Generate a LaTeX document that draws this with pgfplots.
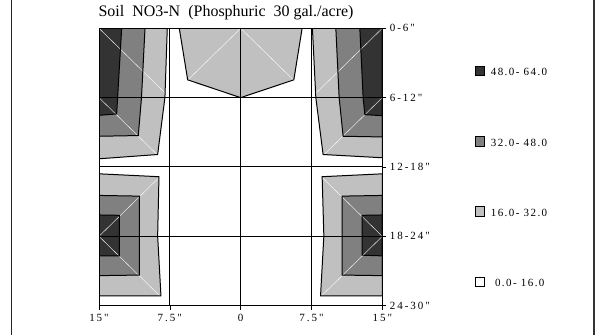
\documentclass[border=0pt]{standalone}
\usepackage{fontspec}
\setmainfont{Liberation Serif}
\newfontfamily\tickf[LetterSpace=18]{Liberation Serif}
\newfontfamily\legf[LetterSpace=13]{Liberation Serif}
\usepackage{pgfplots}
\usepackage{pgfplotstable}
\pgfplotsset{compat=1.18}
\definecolor{cdark}{HTML}{333333}
\definecolor{cmid}{HTML}{808080}
\definecolor{clight}{HTML}{C0C0C0}

% contour regions (x in inches, y = -depth in inches)
\pgfplotstableread{
x y
-15 0
-7.77 0
-8.02 -6
-8.79 -10.92
-15 -11.29
}\tll
\pgfplotstableread{
x y
-15 0
-10.13 0
-10.5 -6
-10.84 -9.28
-15 -9.34
}\tlm
\pgfplotstableread{
x y
-15 0
-12.6 0
-13.03 -6
-13.13 -7.41
-15 -7.53
}\tld
\pgfplotstableread{
x y
15 0
7.6 0
7.96 -6
8.73 -10.92
15 -11.2
}\trl
\pgfplotstableread{
x y
15 0
10.08 0
10.43 -6
10.85 -9.34
15 -9.4
}\trm
\pgfplotstableread{
x y
15 0
12.62 0
12.97 -6
13.15 -7.47
15 -7.56
}\trd
\pgfplotstableread{
x y
-6.5 0
-5.61 -4.46
0 -6
5.63 -4.46
6.51 0
}\tcl
\pgfplotstableread{
x y
-15 -12.59
-8.65 -12.84
-8.79 -17.97
-8.44 -23.14
-15 -23.14
}\bll
\pgfplotstableread{
x y
-15 -14.46
-10.73 -14.52
-10.73 -21.35
-15 -21.4
}\blm
\pgfplotstableread{
x y
-15 -16.15
-12.85 -16.18
-12.85 -19.69
-15 -19.69
}\bld
\pgfplotstableread{
x y
15 -12.59
8.63 -12.84
8.81 -17.97
8.46 -23.14
15 -23.14
}\brl
\pgfplotstableread{
x y
15 -14.46
10.75 -14.52
10.75 -21.35
15 -21.4
}\brm
\pgfplotstableread{
x y
15 -16.15
12.86 -16.18
12.86 -19.63
15 -19.69
}\brd

\begin{document}
\begin{tikzpicture}
\useasboundingbox (0,0) rectangle (605bp,335bp);
\begin{axis}[
  at={(240.65bp,168bp)}, anchor=center,
  width=283.3bp, height=277.4bp, scale only axis,
  xmin=-15, xmax=15, ymin=-24, ymax=0,
  xtick={-15,-7.5,0,7.5,15},
  xticklabels={15",7.5",0,7.5",15"},
  ytick={-24,-18,-12,-6,0},
  yticklabels={24-30",18-24",12-18",6-12",0-6"},
  xtick pos=bottom, ytick pos=right, yticklabel pos=right,
  tick align=outside, major tick length=4bp,
  every tick/.style={black, line width=0.6pt},
  grid=major, major grid style={black, line width=1pt},
  axis line style={black, line width=1pt},
  axis on top,
  ticklabel style={font=\tickf\fontsize{11bp}{13bp}\selectfont},
  xticklabel style={yshift=-1bp},
  legend style={draw=none, fill=none,
    at={(axis description cs:1.327,0.865)}, anchor=north west,
    inner sep=0pt, outer sep=0pt, row sep=58.7bp,
    nodes={inner sep=0pt},
    font=\legf\fontsize{11bp}{13bp}\selectfont},
  legend cell align=left,
  legend image code/.code={\path[draw=none,fill=none] (0bp,0bp) -- (15.5bp,0bp);
    \draw[#1] (0bp,-2.75bp) rectangle (9.5bp,6.75bp);},
]
% fills
\addplot[fill=clight, draw=none, forget plot] table {\tll} -- cycle;
\addplot[fill=cmid, draw=none, forget plot] table {\tlm} -- cycle;
\addplot[fill=cdark, draw=none, forget plot] table {\tld} -- cycle;
\addplot[fill=clight, draw=none, forget plot] table {\trl} -- cycle;
\addplot[fill=cmid, draw=none, forget plot] table {\trm} -- cycle;
\addplot[fill=cdark, draw=none, forget plot] table {\trd} -- cycle;
\addplot[fill=clight, draw=none, forget plot] table {\tcl} -- cycle;
\addplot[fill=clight, draw=none, forget plot] table {\bll} -- cycle;
\addplot[fill=cmid, draw=none, forget plot] table {\blm} -- cycle;
\addplot[fill=cdark, draw=none, forget plot] table {\bld} -- cycle;
\addplot[fill=clight, draw=none, forget plot] table {\brl} -- cycle;
\addplot[fill=cmid, draw=none, forget plot] table {\brm} -- cycle;
\addplot[fill=cdark, draw=none, forget plot] table {\brd} -- cycle;
% triangulation diagonals
\addplot[white, line width=0.4pt, forget plot] coordinates {(-15,0) (-7.5,-6) (0,0) (7.5,-6) (15,0)};
\addplot[white, line width=0.4pt, forget plot] coordinates {(-15,-6) (-7.5,-12)};
\addplot[white, line width=0.4pt, forget plot] coordinates {(15,-6) (7.5,-12)};
\addplot[white, line width=0.4pt, forget plot] coordinates {(-7.5,-12) (-15,-18) (-7.5,-24)};
\addplot[white, line width=0.4pt, forget plot] coordinates {(7.5,-12) (15,-18) (7.5,-24)};
% contour outlines
\addplot[draw=black, line width=1pt, forget plot] table {\tll} -- cycle;
\addplot[draw=black, line width=1pt, forget plot] table {\tlm} -- cycle;
\addplot[draw=black, line width=1pt, forget plot] table {\tld} -- cycle;
\addplot[draw=black, line width=1pt, forget plot] table {\trl} -- cycle;
\addplot[draw=black, line width=1pt, forget plot] table {\trm} -- cycle;
\addplot[draw=black, line width=1pt, forget plot] table {\trd} -- cycle;
\addplot[draw=black, line width=1pt, forget plot] table {\tcl} -- cycle;
\addplot[draw=black, line width=1pt, forget plot] table {\bll} -- cycle;
\addplot[draw=black, line width=1pt, forget plot] table {\blm} -- cycle;
\addplot[draw=black, line width=1pt, forget plot] table {\bld} -- cycle;
\addplot[draw=black, line width=1pt, forget plot] table {\brl} -- cycle;
\addplot[draw=black, line width=1pt, forget plot] table {\brm} -- cycle;
\addplot[draw=black, line width=1pt, forget plot] table {\brd} -- cycle;
% legend
\addlegendimage{fill=cdark, draw=black, line width=0.9pt}
\addlegendentry{48.0- 64.0}
\addlegendimage{fill=cmid, draw=black, line width=0.9pt}
\addlegendentry{32.0- 48.0}
\addlegendimage{fill=clight, draw=black, line width=0.9pt}
\addlegendentry{16.0- 32.0}
\addlegendimage{fill=white, draw=black, line width=0.9pt}
\addlegendentry{\ 0.0- 16.0}
\end{axis}
\draw[line width=1pt, black!85] (11bp,0) -- (11bp,335bp);
\draw[line width=1.6pt, black!80] (594bp,0) -- (594bp,335bp);
\node[anchor=base west, inner sep=0pt, font=\fontsize{16bp}{19bp}\selectfont]
  at (98.3bp,318.3bp) {Soil\ \ NO3-N\ \ (Phosphuric\ \ 30 gal./acre)};
\end{tikzpicture}
\end{document}
